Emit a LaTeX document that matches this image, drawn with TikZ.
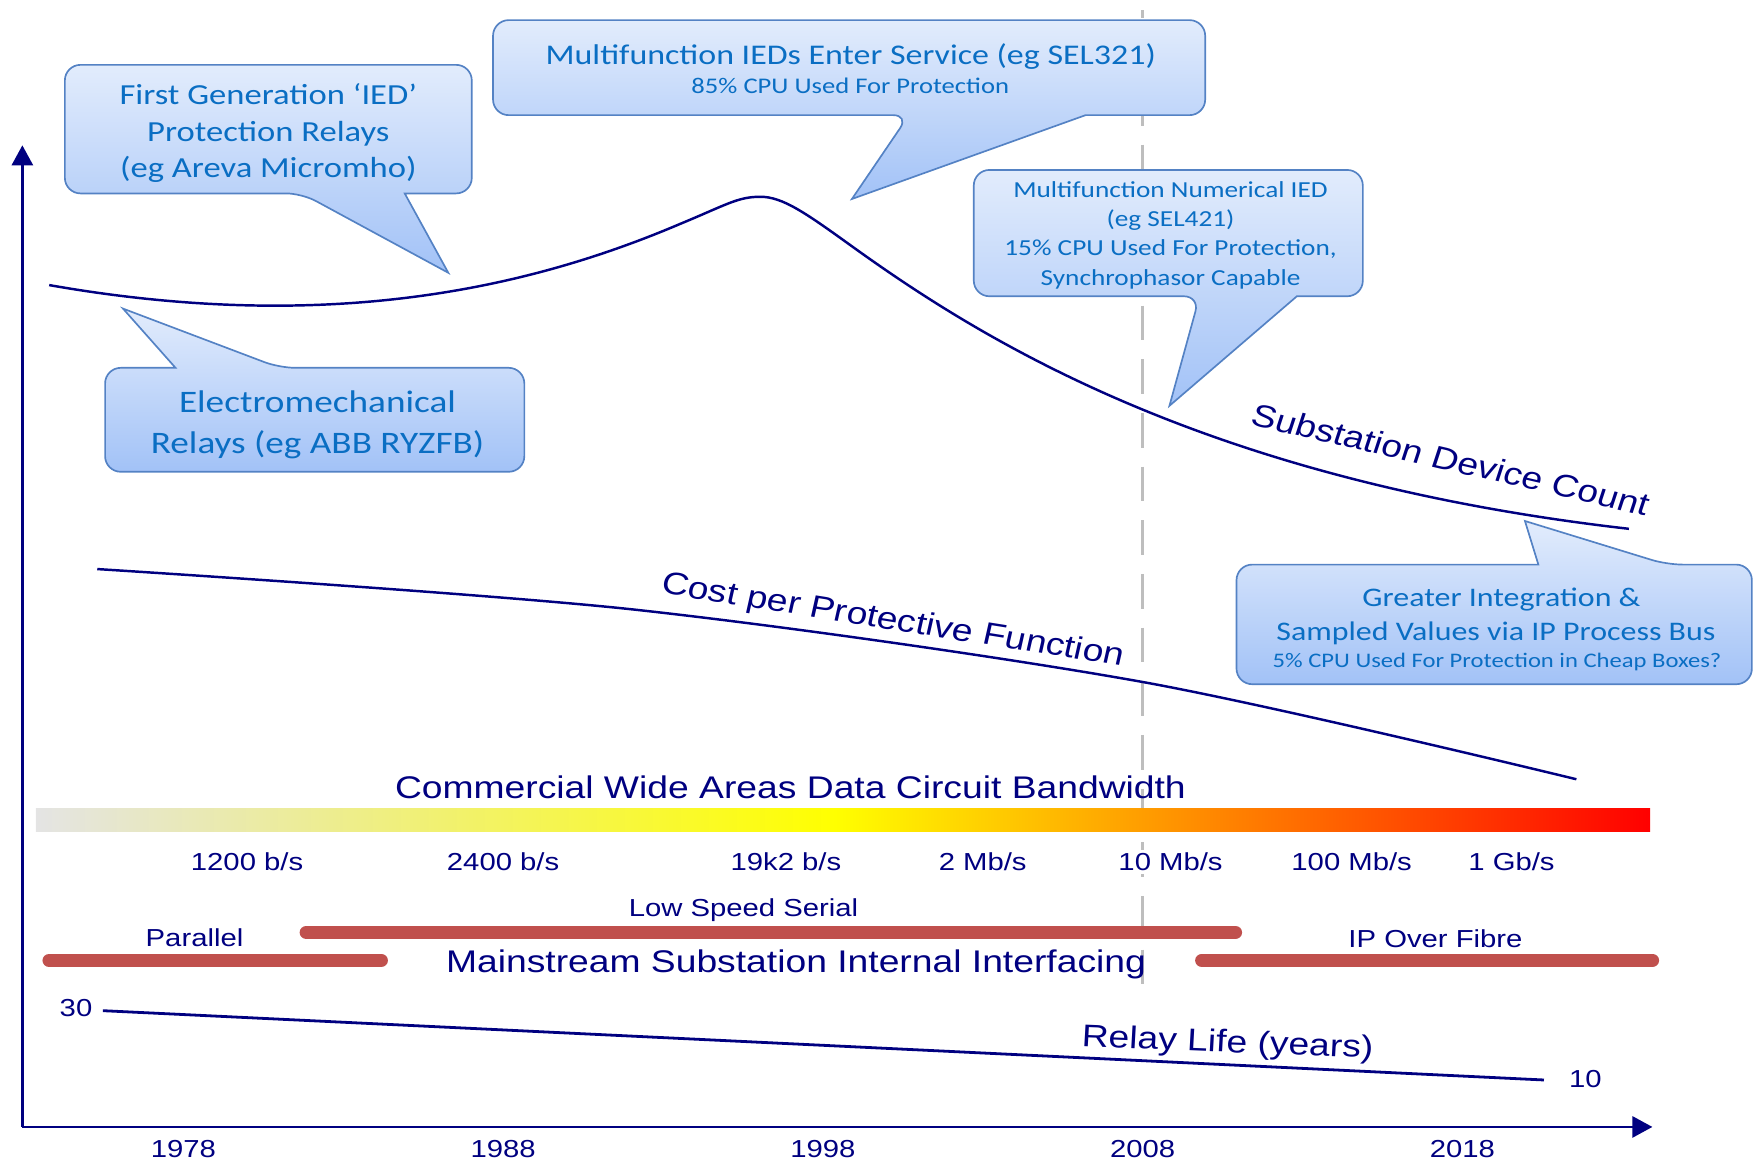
\documentclass[tikz,border=0pt]{standalone}
\usepackage{fontspec}
\setmainfont{Liberation Sans}
\newfontfamily\bubblefont{Carlito}
\usetikzlibrary{arrows.meta}
\definecolor{chartnavy}{RGB}{0,0,128}
\definecolor{bubbletext}{RGB}{10,110,195}
\definecolor{bubbleedge}{RGB}{84,130,196}
\definecolor{bubbletop}{RGB}{226,236,252}
\definecolor{bubblebot}{RGB}{162,194,247}
\definecolor{busred}{RGB}{192,80,77}
\definecolor{dashgrey}{RGB}{190,190,190}
\definecolor{bargrey}{RGB}{228,228,228}
\definecolor{barpale}{RGB}{238,238,136}
\definecolor{barorange}{RGB}{255,165,0}
\pgfdeclarehorizontalshading{bandwidth}{100bp}{color(0bp)=(bargrey); color(25bp)=(bargrey); color(35bp)=(barpale); color(49.75bp)=(yellow); color(58.5bp)=(barorange); color(75bp)=(red); color(100bp)=(red)}
\begin{document}
\begin{tikzpicture}[x=1pt,y=-1pt,
	lbl/.style={text=chartnavy,inner sep=0pt,xscale=1.19,font=\fontsize{22}{26}\selectfont},
	biglbl/.style={lbl,font=\fontsize{28}{32}\selectfont},
	curve/.style={chartnavy,line width=2.2pt},
	axis/.style={chartnavy,line width=2.2pt,-{Triangle[length=18pt,width=19pt]}},
	bus/.style={busred,line width=12pt,line cap=round},
	bubble/.style={top color=bubbletop,bottom color=bubblebot,draw=bubbleedge,line width=1.5pt},
	bubtxt/.style={text=bubbletext,inner sep=0pt,xscale=1.19,align=center}]
	\useasboundingbox (0,0) rectangle (1568,1044.7);
	% 2008 marker
	\draw[dashgrey,line width=3pt,dash pattern=on 31pt off 17pt,dash phase=23.6pt] (1022,9) -- (1022,887);
	% axes
	\coordinate (origin) at (20,1008);
	\coordinate (ytip) at (20,130);
	\coordinate (xtip) at (1478,1008);
	\draw[axis] (origin) -- (ytip);
	\draw[axis] (origin) -- (xtip);
	\node[lbl] (yr1978) at (164,1028) {1978};
	\node[lbl] (yr1988) at (450,1028) {1988};
	\node[lbl] (yr1998) at (736,1028) {1998};
	\node[lbl] (yr2008) at (1022,1028) {2008};
	\node[lbl] (yr2018) at (1308,1028) {2018};
	% curves
	\draw[curve] (44,255) .. controls (300,300) and (480,255) .. (609,200) .. controls (650,183) and (660,176) .. (680,176) .. controls (700,176) and (720,190) .. (763,221) .. controls (880,305) and (1080,430) .. (1457,473);
	\node[biglbl,rotate=-15.4] (devcount) at (1298,411) {Substation Device Count};
	\draw[curve] plot[smooth,tension=0.5] coordinates {(87,509) (565,545) (1022,610) (1410,697)};
	\node[biglbl,rotate=-10.7] (costfn) at (798.5,556) {Cost per Protective Function};
	% bandwidth bar
	\node[biglbl] (bwtitle) at (707,704) {Commercial Wide Areas Data Circuit Bandwidth};
	\shade[shading=bandwidth] (32,723) rectangle (1476,744);
	\node[lbl] (bw1) at (221,771) {1200 b/s};
	\node[lbl] (bw2) at (450,771) {2400 b/s};
	\node[lbl] (bw3) at (703,771) {19k2 b/s};
	\node[lbl] (bw4) at (879,771) {2 Mb/s};
	\node[lbl,fill=white,inner sep=3pt] (bw5) at (1047,771) {10 Mb/s};
	\node[lbl] (bw6) at (1209,771) {100 Mb/s};
	\node[lbl] (bw7) at (1352,771) {1 Gb/s};
	% interfacing
	\draw[bus] (274,834) -- (1105,834);
	\draw[bus] (44,859) -- (341,859);
	\draw[bus] (1075,859) -- (1478,859);
	\node[lbl] (serial) at (665,814) {Low Speed Serial};
	\node[lbl] (parallel) at (174,839) {Parallel};
	\node[lbl] (ipfibre) at (1284,840) {IP Over Fibre};
	\node[biglbl] (mainstream) at (712,863) {Mainstream Substation Internal Interfacing};
	% relay life
	\draw[curve,line width=2.5pt] (92,904) -- (1381,966);
	\node[lbl] (life30) at (68,902) {30};
	\node[lbl] (life10) at (1418,965) {10};
	\node[biglbl,rotate=-2.7] (relaylife) at (1098,934) {Relay Life (years)};
	% callouts
	\draw[bubble] (362,173) [rounded corners=14pt] -- (422,173) -- (422,58) -- (58,58) -- (58,173) -- (270,173) [sharp corners] -- (401,244) -- cycle;
	\node[bubtxt,font=\bubblefont\fontsize{26}{33}\selectfont] (firstied) at (240,119) {First Generation ‘IED’\\Protection Relays\\(eg Areva Micromho)};
	\draw[bubble] (157,329) [rounded corners=14pt] -- (94,329) -- (94,422) -- (469,422) -- (469,329) -- (250,329) [sharp corners] -- (110,276) -- cycle;
	\node[bubtxt,font=\bubblefont\fontsize{28}{36}\selectfont] (electromech) at (284,380) {Electromechanical\\Relays (eg ABB RYZFB)};
	\draw[bubble] (971,103) [rounded corners=14pt] -- (1078,103) -- (1078,18) -- (441,18) -- (441,103) -- (813,103) [sharp corners] -- (762,178) -- cycle;
	\node[bubtxt,font=\bubblefont\fontsize{25.5}{31}\selectfont] (multiied) at (761,51) {Multifunction IEDs Enter Service (eg SEL321)};
	\node[bubtxt,font=\bubblefont\fontsize{20}{24}\selectfont] (cpu85) at (760.5,76.5) {85\% CPU Used For Protection};
	\draw[bubble] (1160,265) [rounded corners=14pt] -- (1219,265) -- (1219,152) -- (871,152) -- (871,265) -- (1073,265) [sharp corners] -- (1046,363) -- cycle;
	\node[bubtxt,font=\bubblefont\fontsize{20.5}{26}\selectfont] (numied) at (1047,210.5) {Multifunction Numerical IED\\(eg SEL421)\\15\% CPU Used For Protection,\\Synchrophasor Capable};
	\draw[bubble] (1376,505) [rounded corners=14pt] -- (1106,505) -- (1106,612) -- (1567,612) -- (1567,505) -- (1491,505) [sharp corners] -- (1364,466) -- cycle;
	\node[bubtxt,font=\bubblefont\fontsize{24}{30}\selectfont] (integration) at (1343,536.5) {Greater Integration \&};
	\node[bubtxt,font=\bubblefont\fontsize{24}{30}\selectfont] (sampled) at (1338,566.5) {Sampled Values via IP Process Bus};
	\node[bubtxt,font=\bubblefont\fontsize{18.5}{22}\selectfont] (cpu5) at (1339,592) {5\% CPU Used For Protection in Cheap Boxes?};
\end{tikzpicture}
\end{document}
